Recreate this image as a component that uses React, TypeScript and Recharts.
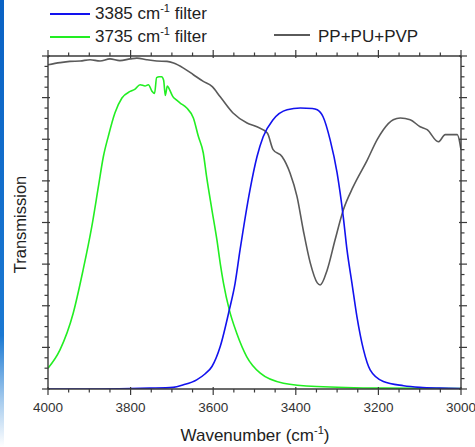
import * as React from 'react';
import { LineChart, Line, XAxis, YAxis } from 'recharts';

// wavenumber (cm-1) / transmission (0..8 arbitrary units)
const blueWn = [4000, 3900, 3800, 3753, 3697, 3672, 3640, 3620, 3603, 3583, 3561, 3547, 3535, 3511, 3494, 3479, 3455, 3421, 3389, 3360, 3348, 3334, 3317, 3300, 3285, 3276, 3264, 3252, 3236, 3220, 3188, 3139, 3100, 3050, 3000];
const blueT = [0, 0, 0.01, 0.02, 0.04, 0.1, 0.22, 0.36, 0.54, 1.02, 1.9, 2.54, 3.34, 4.78, 5.58, 6.06, 6.47, 6.71, 6.75, 6.74, 6.71, 6.54, 5.99, 5.19, 4.13, 3.34, 2.54, 1.74, 0.94, 0.46, 0.18, 0.08, 0.04, 0.02, 0.01];

const greenWn = [4000, 3971, 3939, 3915, 3894, 3878, 3866, 3854, 3838, 3821, 3801, 3790, 3777, 3765, 3757, 3748, 3742, 3737, 3731, 3725, 3720, 3716, 3711, 3706, 3698, 3690, 3680, 3664, 3648, 3636, 3624, 3616, 3603, 3591, 3583, 3575, 3561, 3543, 3519, 3486, 3430, 3349, 3188, 3000];
const greenT = [0.5, 0.94, 1.82, 2.86, 3.9, 4.86, 5.58, 6.07, 6.63, 6.99, 7.15, 7.2, 7.31, 7.28, 7.31, 7.15, 7.1, 7.48, 7.5, 7.5, 7.42, 7.05, 7.28, 7.2, 7.03, 6.95, 6.87, 6.75, 6.51, 6.07, 5.67, 5.1, 4.3, 3.58, 3.02, 2.54, 1.9, 1.34, 0.78, 0.38, 0.14, 0.06, 0.02, 0.01];

const grayWn = [4000, 3971, 3947, 3922, 3898, 3874, 3850, 3826, 3801, 3785, 3761, 3737, 3712, 3696, 3672, 3648, 3624, 3603, 3583, 3552, 3518, 3494, 3469, 3455, 3433, 3414, 3397, 3382, 3365, 3348, 3341, 3324, 3305, 3285, 3261, 3227, 3203, 3188, 3164, 3147, 3123, 3099, 3082, 3055, 3038, 3009, 3000];
const grayT = [7.79, 7.84, 7.87, 7.88, 7.91, 7.88, 7.93, 7.89, 7.93, 7.95, 7.91, 7.88, 7.87, 7.83, 7.71, 7.55, 7.39, 7.27, 7.02, 6.63, 6.39, 6.3, 6.15, 5.75, 5.58, 5.19, 4.62, 3.82, 3.03, 2.55, 2.5, 2.86, 3.58, 4.3, 4.86, 5.5, 5.99, 6.23, 6.47, 6.51, 6.47, 6.3, 6.23, 5.94, 6.11, 6.11, 5.75];

const xTicks = [4000, 3950, 3900, 3850, 3800, 3750, 3700, 3650, 3600, 3550, 3500, 3450, 3400, 3350, 3300, 3250, 3200, 3150, 3100, 3050, 3000];
const xMajor = [4000, 3800, 3600, 3400, 3200, 3000];
const yTicks = Array.from({ length: 33 }, (_, i) => i * 0.25);

const toRows = (wn: number[], t: number[]) => wn.map((w, i) => ({ wn: w, t: t[i] }));
const blueData = toRows(blueWn, blueT);
const greenData = toRows(greenWn, greenT);
const grayData = toRows(grayWn, grayT);

const FONT = '"Liberation Sans", Arial, sans-serif';
const AXIS = '#3a3a3a';
const BLUE = '#1212ee';
const GREEN = '#22ee22';
const GRAY = '#5a5a5a';

function XTick(props: any) {
  const { x, y, payload, side } = props;
  const major = xMajor.includes(payload.value);
  const d = side === 'bottom' ? 1 : -1;
  return (
    <g>
      <line x1={x} x2={x} y1={y - d * (major ? 2 : 0)} y2={y + d * (major ? 6 : 3.5)} stroke={AXIS} strokeWidth={1.2} />
      {side === 'bottom' && major && (
        <text x={x} y={y + 23} textAnchor="middle" fontSize={13.5} fontFamily={FONT} fill="#333">
          {payload.value}
        </text>
      )}
    </g>
  );
}

function YTick(props: any) {
  const { x, y, payload, side } = props;
  const major = Number.isInteger(payload.value);
  const d = side === 'left' ? -1 : 1;
  return (
    <line x1={x - d * (major ? 2 : 0)} x2={x + d * (major ? 6 : 3.5)} y1={y} y2={y} stroke={AXIS} strokeWidth={1.2} />
  );
}

const sup = { fontSize: 11, verticalAlign: 'super', lineHeight: 0 } as React.CSSProperties;
const swatch = (left: number, top: number, width: number, color: string) => (
  <div style={{ position: 'absolute', left, top, width, height: 2, background: color }} />
);

export default function App() {
  return (
    <div style={{ position: 'absolute', left: 0, top: 0, width: 475, height: 447, fontFamily: FONT, background: '#fff' }}>
      <div style={{ position: 'absolute', left: 0, top: 0, width: 4, height: 447, background: 'linear-gradient(#0a62c4, #1a78d2 75%, #a9cdee 90%, #ffffff)' }} />
      <LineChart width={475} height={447} margin={{ top: 51, right: 9, bottom: 28, left: 43 }}>
        <XAxis xAxisId="b" type="number" dataKey="wn" domain={[3000, 4000]} reversed ticks={xTicks} interval={0}
          tick={<XTick side="bottom" />} tickLine={false} tickSize={0} tickMargin={0} height={30}
          axisLine={{ stroke: AXIS, strokeWidth: 1.4 }} allowDataOverflow />
        <XAxis xAxisId="t" orientation="top" type="number" dataKey="wn" domain={[3000, 4000]} reversed ticks={xTicks} interval={0}
          tick={<XTick side="top" />} tickLine={false} tickSize={0} tickMargin={0} height={5}
          axisLine={{ stroke: AXIS, strokeWidth: 1.4 }} allowDataOverflow />
        <YAxis yAxisId="l" type="number" domain={[0, 8]} ticks={yTicks} interval={0}
          tick={<YTick side="left" />} tickLine={false} tickSize={0} tickMargin={0} width={5}
          axisLine={{ stroke: AXIS, strokeWidth: 1.4 }} allowDataOverflow />
        <YAxis yAxisId="r" orientation="right" type="number" domain={[0, 8]} ticks={yTicks} interval={0}
          tick={<YTick side="right" />} tickLine={false} tickSize={0} tickMargin={0} width={5}
          axisLine={{ stroke: AXIS, strokeWidth: 1.4 }} allowDataOverflow />
        <Line xAxisId="b" yAxisId="l" data={grayData} dataKey="t" type="monotone" stroke={GRAY} strokeWidth={1.6} dot={false} isAnimationActive={false} />
        <Line xAxisId="b" yAxisId="l" data={greenData} dataKey="t" type="monotone" stroke={GREEN} strokeWidth={1.6} dot={false} isAnimationActive={false} />
        <Line xAxisId="b" yAxisId="l" data={blueData} dataKey="t" type="monotone" stroke={BLUE} strokeWidth={1.6} dot={false} isAnimationActive={false} />
      </LineChart>

      {/* legend */}
      {swatch(50, 12.5, 40, BLUE)}
      <div style={{ position: 'absolute', left: 95, top: 5, fontSize: 17, lineHeight: 1, color: '#222', whiteSpace: 'nowrap' }}>
        3385 cm<sup style={sup}>-1</sup> filter
      </div>
      {swatch(50, 36, 40, GREEN)}
      <div style={{ position: 'absolute', left: 95, top: 28.4, fontSize: 17, lineHeight: 1, color: '#222', whiteSpace: 'nowrap' }}>
        3735 cm<sup style={sup}>-1</sup> filter
      </div>
      {swatch(274, 34, 36, GRAY)}
      <div style={{ position: 'absolute', left: 318, top: 28.4, fontSize: 17, lineHeight: 1, color: '#222', whiteSpace: 'nowrap' }}>
        PP+PU+PVP
      </div>

      {/* axis titles */}
      <div style={{ position: 'absolute', left: 155, top: 426.6, width: 200, textAlign: 'center', fontSize: 17, lineHeight: 1, color: '#222', whiteSpace: 'nowrap' }}>
        Wavenumber (cm<sup style={sup}>-1</sup>)
      </div>
      <div style={{ position: 'absolute', left: 20 - 60, top: 224 - 8.5, width: 120, textAlign: 'center', fontSize: 16.5, lineHeight: 1, color: '#222', transform: 'rotate(-90deg)', transformOrigin: '60px 8.5px', whiteSpace: 'nowrap' }}>
        Transmission
      </div>
    </div>
  );
}
